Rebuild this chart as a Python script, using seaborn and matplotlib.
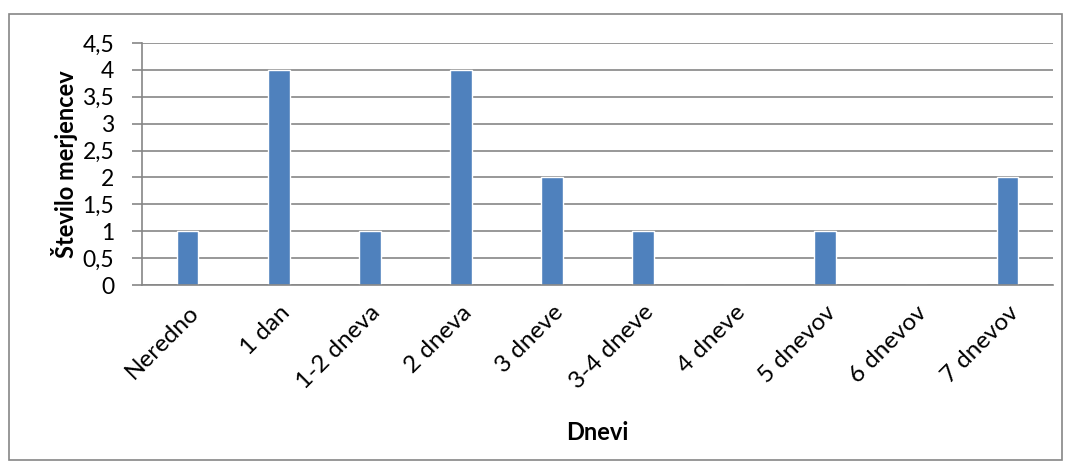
import matplotlib
matplotlib.use("Agg")
import matplotlib.pyplot as plt
import seaborn as sns
import pandas as pd
from matplotlib.patches import Rectangle

categories = ["Neredno", "1 dan", "1-2 dneva", "2 dneva", "3 dneve", "3-4 dneve",
              "4 dneve", "5 dnevov", "6 dnevov", "7 dnevov"]
values = [1, 4, 1, 4, 2, 1, 0, 1, 0, 2]
yticks = [0, 0.5, 1, 1.5, 2, 2.5, 3, 3.5, 4, 4.5]
ytick_labels = ["0", "0,5", "1", "1,5", "2", "2,5", "3", "3,5", "4", "4,5"]

sns.set_theme(style="white")
plt.rcParams['font.family'] = ['Lato', 'DejaVu Sans']

df = pd.DataFrame({"cat": categories, "val": values})

fig = plt.figure(figsize=(10.68, 4.66), dpi=100)
ax = fig.add_axes([142/1068, 1 - 285/466, (1053-142)/1068, (285-43)/466])

sns.barplot(data=df, x="cat", y="val", color="#4F81BD", width=0.24,
            saturation=1, ax=ax, order=categories)

ax.set_ylim(0, 4.5)
ax.set_xlim(-0.5, len(categories) - 0.5)
ax.set_yticks(yticks)
ax.set_yticklabels(ytick_labels, fontsize=16.5, color="black")
ax.yaxis.grid(True, color="#868686", linewidth=1.2)
ax.set_axisbelow(True)
for s in ["top", "right"]:
    ax.spines[s].set_visible(False)
ax.spines["left"].set_color("#868686")
ax.spines["bottom"].set_color("#868686")
ax.spines["left"].set_linewidth(1.2)
ax.spines["bottom"].set_linewidth(1.2)
ax.tick_params(axis="y", length=7, width=1.2, color="#868686", pad=13, left=True)
ax.tick_params(axis="x", length=0, pad=12)
ax.set_xticks(range(len(categories)))
ax.set_xticklabels(categories, rotation=45, ha="right", rotation_mode="anchor",
                   fontsize=17.5, color="black")
ax.set_xlabel("Dnevi", fontsize=17, fontweight="bold", color="black", labelpad=20)
ax.set_ylabel("Število merjencev", fontsize=17, fontweight="bold", color="black", labelpad=3)

fig.patches.append(Rectangle((9/1068, 1 - 460/466), (1062-9)/1068, (460-14)/466,
                             transform=fig.transFigure, fill=False,
                             edgecolor="#868686", linewidth=1.2))

fig.savefig("out.png", dpi=100)
